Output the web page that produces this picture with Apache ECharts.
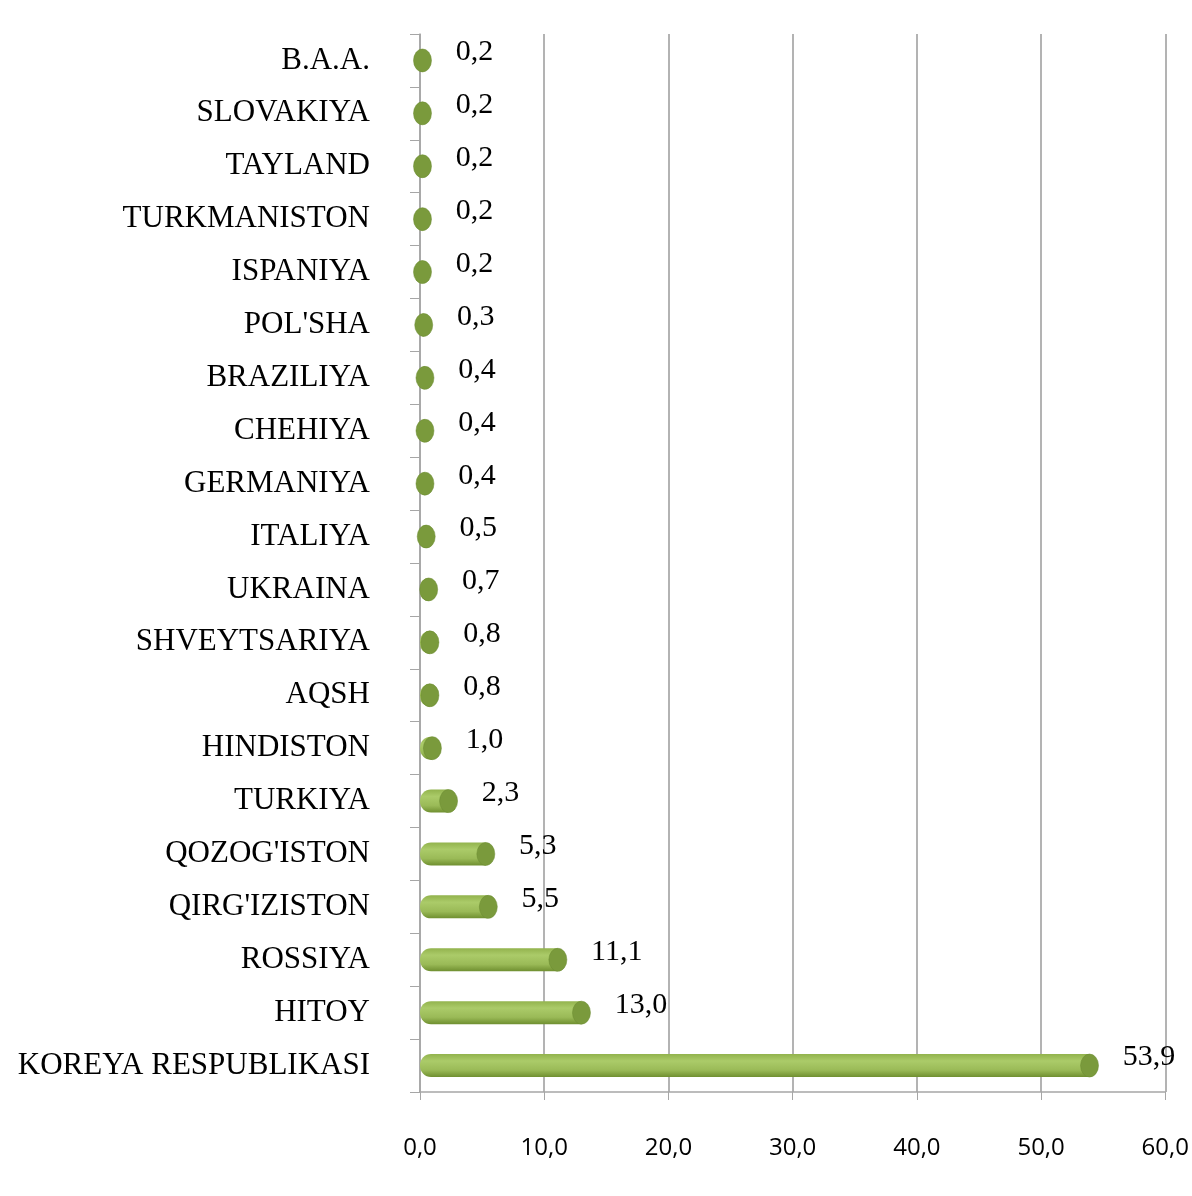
<!DOCTYPE html>
<html>
<head>
<meta charset="utf-8">
<script src="https://cdn.jsdelivr.net/npm/echarts@6/dist/echarts.min.js"></script>
<style>html,body{margin:0;padding:0;background:#fff;}#c{width:1192px;height:1196px;}</style>
</head>
<body>
<div id="c"></div>
<script>
var categories = ["B.A.A.","SLOVAKIYA","TAYLAND","TURKMANISTON","ISPANIYA","POL'SHA","BRAZILIYA","CHEHIYA","GERMANIYA","ITALIYA","UKRAINA","SHVEYTSARIYA","AQSH","HINDISTON","TURKIYA","QOZOG'ISTON","QIRG'IZISTON","ROSSIYA","HITOY","KOREYA RESPUBLIKASI"];
var values = [0.2,0.2,0.2,0.2,0.2,0.3,0.4,0.4,0.4,0.5,0.7,0.8,0.8,1.0,2.3,5.3,5.5,11.1,13.0,53.9];
var xTicks = {min:0, max:60, interval:10};

var chart = echarts.init(document.getElementById('c'), null, {renderer:'canvas'});
var fmt = function(v){ return v.toFixed(1).replace('.', ','); };
chart.setOption({
  backgroundColor:'#ffffff',
  animation:false,
  grid:{left:420, right:26, top:34, bottom:104},
  xAxis:{
    type:'value', min:xTicks.min, max:xTicks.max, interval:xTicks.interval,
    axisLine:{show:true, lineStyle:{color:'#a6a6a6', width:1.5}},
    axisTick:{show:true, length:8, lineStyle:{color:'#a6a6a6'}},
    splitLine:{show:true, lineStyle:{color:'#9a9a9a', width:1.5}},
    axisLabel:{margin:44, fontFamily:'Open Sans', fontSize:24, color:'#000', formatter:function(v){return fmt(v);}}
  },
  yAxis:{
    type:'category', data:categories, inverse:true,
    axisLine:{show:true, lineStyle:{color:'#a6a6a6', width:1.5}},
    axisTick:{show:true, length:10, lineStyle:{color:'#a6a6a6'}},
    axisLabel:{margin:50, fontFamily:'Liberation Serif', fontSize:31, color:'#000'}
  },
  series:[
    {
      type:'bar', data:values, barWidth:23, z:2,
      itemStyle:{
        borderRadius:[11,0,0,11],
        color:new echarts.graphic.LinearGradient(0,0,0,1,[
          {offset:0, color:'#92b34d'},
          {offset:0.3, color:'#abcb69'},
          {offset:0.7, color:'#9aba57'},
          {offset:1, color:'#6f8f30'}
        ])
      }
    },
    {
      type:'scatter', data:values.map(function(v,i){return [v, categories[i]];}), z:3,
      symbol:'circle', symbolSize:[18,23],
      itemStyle:{color:'#7a9a3c', borderColor:'#6a8a30', borderWidth:0.5, opacity:1},
      label:{
        show:true, position:'right', distance:24, offset:[0,-8],
        fontFamily:'Liberation Serif', fontSize:30, color:'#000',
        formatter:function(p){return fmt(p.value[0]);}
      }
    }
  ]
});
</script>
</body>
</html>
